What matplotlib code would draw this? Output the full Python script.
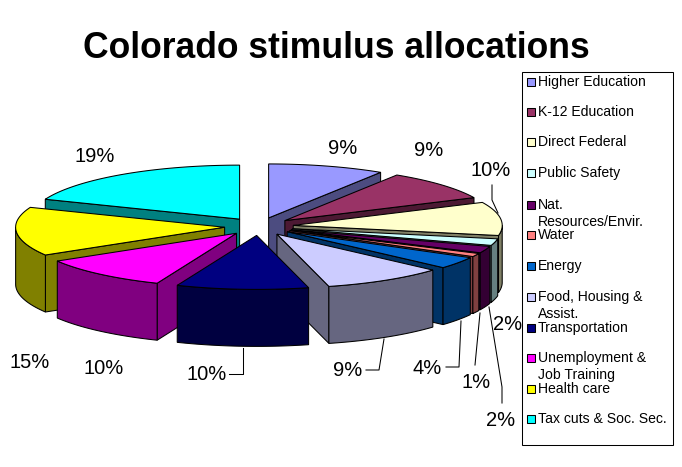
import numpy as np
import matplotlib
matplotlib.use("Agg")
import matplotlib.pyplot as plt
from matplotlib.patches import Polygon, Rectangle

plt.rcParams['font.family'] = ['Liberation Sans', 'DejaVu Sans']

title = "Colorado stimulus allocations"
categories = ["Higher Education", "K-12 Education", "Direct Federal", "Public Safety",
              "Nat.\nResources/Envir.", "Water", "Energy", "Food, Housing &\nAssist.",
              "Transportation", "Unemployment &\nJob Training", "Health care",
              "Tax cuts & Soc. Sec."]
values = [9, 9, 10, 2, 2, 1, 3.6, 9.4, 10.2, 10.2, 14.6, 19]
top_colors = ["#9999FF", "#993366", "#FFFFCC", "#CCFFFF", "#660066", "#FF8080",
              "#0066CC", "#CCCCFF", "#000080", "#FF00FF", "#FFFF00", "#00FFFF"]
side_colors = ["#4C4C80", "#4C1933", "#808066", "#668080", "#330033", "#804040",
               "#003366", "#666680", "#000040", "#800080", "#808000", "#008080"]
label_pos = [(343, 148), (429, 151), (491, 170), (508, 324), (501, 420), (476, 382),
             (427, 368), (348, 371), (207, 375), (104, 368), (30, 363), (95, 157)]
leaders = [None, None, [(492, 185), (492, 200), (498, 213)], None,
           [(502, 403), (502, 387), (489, 307)], [(475, 365), (480, 313)],
           [(446, 367), (459, 367), (461, 321)], [(366, 370), (379, 370), (384, 339)],
           [(229, 374), (243, 374), (243, 348)], None, None, None]
legend_y = [82, 112, 142, 173, 205, 235, 266, 297, 328, 358, 389, 419]

cx, cy = 259, 226.5
rx, ry = 209, 54
depth = 57
explode = 0.165
edge = 0.75

fig = plt.figure(figsize=(6.82, 4.67), dpi=100)
ax = fig.add_axes([0, 0, 1, 1])
ax.set_xlim(0, 682)
ax.set_ylim(467, 0)
ax.axis("off")


def rim(t, ox, oy):
    return np.column_stack([ox + rx * np.sin(t), oy - ry * np.cos(t)])


def draw_slice(a, b, top, side, z):
    mid = (a + b) / 2
    ox = cx + explode * rx * np.sin(mid)
    oy = cy - explode * ry * np.cos(mid)
    down = np.array([0, depth])
    apex = np.array([[ox, oy]])
    # radial faces facing the viewer
    for t, show in ((a, np.sin(a) < 0), (b, np.sin(b) > 0)):
        if show:
            p = rim(np.array([t]), ox, oy)
            pts = np.vstack([apex, p, p + down, apex + down])
            ax.add_patch(Polygon(pts, fc=side, ec="k", lw=edge, zorder=z))
    # outer wall, front half only
    w0, w1 = max(a, np.pi / 2), min(b, 3 * np.pi / 2)
    if w1 > w0:
        arc = rim(np.linspace(w0, w1, 60), ox, oy)
        pts = np.vstack([arc, arc[::-1] + down])
        ax.add_patch(Polygon(pts, fc=side, ec="k", lw=edge, zorder=z))
    arc = rim(np.linspace(a, b, 80), ox, oy)
    ax.add_patch(Polygon(np.vstack([apex, arc]), fc=top, ec="k", lw=edge, zorder=z))


fractions = np.array(values) / sum(values)
ends = np.cumsum(fractions) * 2 * np.pi
starts = ends - fractions * 2 * np.pi
mids = (starts + ends) / 2
# back slices first
order = np.argsort(-np.cos(mids))
for z, i in enumerate(order):
    draw_slice(starts[i], ends[i], top_colors[i], side_colors[i], 2 + z)

for val, pos, line in zip(values, label_pos, leaders):
    ax.text(pos[0], pos[1], f"{val:.0f}%", ha="center", va="center", fontsize=14.5, zorder=30)
    if line:
        xs, ys = zip(*line)
        ax.plot(xs, ys, color="k", lw=edge, zorder=30)

ax.text(336, 48, title, ha="center", va="center", fontsize=25.6, fontweight="bold", zorder=30)

# legend box
ax.add_patch(Rectangle((522, 72), 151, 373, fc="white", ec="k", lw=edge, zorder=31))
for name, color, y in zip(categories, top_colors, legend_y):
    ax.add_patch(Rectangle((527, y - 4), 8, 8, fc=color, ec="k", lw=edge, zorder=32))
    lines = name.split("\n")
    for k, part in enumerate(lines):
        ax.text(538, y + k * 17, part, ha="left", va="center", fontsize=10.1, zorder=32)

fig.savefig("out.png", dpi=100)
